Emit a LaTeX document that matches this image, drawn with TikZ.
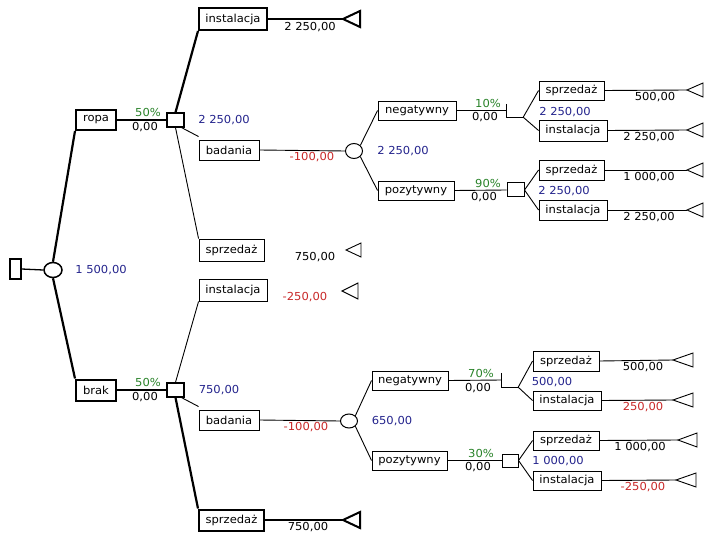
\documentclass[tikz,border=0pt]{standalone}
\usepackage{fontspec}
\setmainfont{DejaVu Sans}[FakeStretch=1.05]
\usetikzlibrary{shapes.geometric}
\definecolor{blu}{RGB}{35,35,140}
\definecolor{grn}{RGB}{40,130,40}
\definecolor{rd}{RGB}{200,40,40}
\newcommand\ft{\fontsize{11}{13}\selectfont}
\tikzset{
  box/.style={draw, rectangle, line width=0.9pt, inner sep=0pt, font=\ft},
  bbox/.style={box, line width=2pt},
  dec/.style={draw, rectangle, line width=1.3pt, inner sep=0pt},
  hdec/.style={rectangle, inner sep=0pt},
  chance/.style={draw, ellipse, line width=1pt, inner sep=0pt},
  ln/.style={line width=0.9pt},
  bln/.style={line width=2.2pt},
  val/.style={font=\ft, inner sep=0pt},
  tri/.style={line width=0.9pt},
  btri/.style={line width=2pt},
}
\begin{document}
\begin{tikzpicture}[x=1pt,y=-1pt]
\useasboundingbox (0,0) rectangle (720,540);
% root
\node[dec, line width=2pt, minimum width=11pt, minimum height=20pt] (root) at (15,269) {};
\node[chance, line width=1.5pt, minimum width=18pt, minimum height=15pt] (c0) at (53,270) {};
\draw[ln, line width=1.3pt] (root.east) -- (c0.west);
\node[val, text=blu] (v0) at (101,270) {1 500,00};
% ropa / brak
\node[bbox, minimum width=40pt, minimum height=20pt] (ropa) at (96,120) {ropa};
\node[bbox, minimum width=40pt, minimum height=21pt] (brak) at (96,390) {brak};
\draw[bln] (c0.north) -- (ropa.south west);
\draw[bln] (c0.south) -- (brak.north west);
\node[dec, minimum width=17pt, minimum height=14pt] (d1) at (175.5,120) {};
\node[dec, minimum width=17pt, minimum height=14pt] (d2) at (175.5,390) {};
\draw[bln] (ropa.east) -- (d1.west);
\draw[bln] (brak.east) -- (d2.west);
\node[val, text=grn] (p1) at (148,112) {50\%};
\node[val] (q1) at (145,127) {0,00};
\node[val, text=grn] (p2) at (148,382) {50\%};
\node[val] (q2) at (145,397) {0,00};
\node[val, text=blu] (v1) at (224,120) {2 250,00};
\node[val, text=blu] (v2) at (219,390) {750,00};
% upper first level
\node[bbox, minimum width=68pt, minimum height=22pt] (inst1) at (233,19) {instalacja};
\node[box, minimum width=60pt, minimum height=20pt] (bad1) at (229,150) {badania};
\node[box, minimum width=65pt, minimum height=22pt] (spr1) at (231.5,250) {sprzedaż};
\draw[bln] (d1.north) -- (inst1.south west);
\draw[ln] ([xshift=-3pt]d1.south east) -- ([yshift=3pt]bad1.north west);
\draw[ln] (d1.south) -- (spr1.north west);
\coordinate (T1) at (343,19);
\draw[bln] (inst1.east) -- (T1);
\draw[btri] (T1) -- ++(17,-8) -- ++(0,16) -- cycle;
\node[val] (w1) at (310,27) {2 250,00};
\coordinate (T2) at (346,250);
\draw[tri] (T2) -- ++(15,-7) -- ++(0,14) -- cycle;
\node[val] (w2) at (315,257) {750,00};
\node[val, text=rd] (w3) at (312,157) {-100,00};
% lower first level
\node[box, minimum width=68pt, minimum height=22pt] (inst2) at (233,290) {instalacja};
\node[box, minimum width=60pt, minimum height=20pt] (bad2) at (229,420) {badania};
\node[bbox, minimum width=65pt, minimum height=21pt] (spr2) at (231.5,520) {sprzedaż};
\draw[ln] (d2.north) -- (inst2.south west);
\draw[ln] ([xshift=-3pt]d2.south east) -- ([yshift=3pt]bad2.north west);
\draw[bln] (d2.south) -- (spr2.north west);
\coordinate (T3) at (342,291);
\draw[tri] (T3) -- ++(16,-8) -- ++(0,16) -- cycle;
\node[val, text=rd] (w4) at (305,297) {-250,00};
\coordinate (T4) at (343,520);
\draw[bln] (spr2.east) -- (T4);
\draw[btri] (T4) -- ++(17,-8) -- ++(0,16) -- cycle;
\node[val] (w5) at (308,527) {750,00};
\node[val, text=rd] (w6) at (306,427) {-100,00};
% upper chance
\node[chance, minimum width=17pt, minimum height=15pt] (c1) at (354,151) {};
\draw[ln] (bad1.east) -- (c1.west);
\node[val, text=blu] (v3) at (403,151) {2 250,00};
\node[box, minimum width=78pt, minimum height=19pt] (neg1) at (417,110.5) {negatywny};
\node[box, minimum width=76pt, minimum height=19pt] (poz1) at (416,190.5) {pozytywny};
\draw[ln] (c1.north east) -- (neg1.west);
\draw[ln] (c1.south east) -- (poz1.west);
\node[hdec, minimum width=16pt, minimum height=13pt] (h1) at (515,110.5) {};
\draw[ln] (neg1.east) -- (h1.west);
\draw[ln] (h1.north west) -- (h1.south west) -- (h1.south east);
\node[dec, line width=1pt, minimum width=17pt, minimum height=14pt] (d3) at (515.5,190) {};
\draw[ln] (poz1.east) -- (d3.west);
\node[val, text=grn] (p3) at (488,103) {10\%};
\node[val] (q3) at (485,117) {0,00};
\node[val, text=grn] (p4) at (488,183) {90\%};
\node[val] (q4) at (484,197) {0,00};
\node[val, text=blu] (v4) at (565,112) {2 250,00};
\node[val, text=blu] (v5) at (564,191) {2 250,00};
\node[box, minimum width=65pt, minimum height=19pt] (s11) at (571.5,90.5) {sprzedaż};
\node[box, minimum width=68pt, minimum height=21pt] (i11) at (573,130.5) {instalacja};
\node[box, minimum width=65pt, minimum height=20pt] (s12) at (571.5,170) {sprzedaż};
\node[box, minimum width=68pt, minimum height=20pt] (i12) at (573,210) {instalacja};
\draw[ln] (h1.south east) -- (s11.west);
\draw[ln] (h1.south east) -- (i11.west);
\draw[ln] (d3.east) -- (s12.west);
\draw[ln] (d3.east) -- (i12.west);
\coordinate (R1) at (687,90);
\coordinate (R2) at (687,130);
\coordinate (R3) at (687,170);
\coordinate (R4) at (687,210);
\draw[ln] (s11.east) -- (R1);
\draw[ln] (i11.east) -- (R2);
\draw[ln] (s12.east) -- (R3);
\draw[ln] (i12.east) -- (R4);
\draw[tri] (R1) -- ++(16,-7) -- ++(0,14) -- cycle;
\draw[tri] (R2) -- ++(16,-7) -- ++(0,14) -- cycle;
\draw[tri] (R3) -- ++(16,-7) -- ++(0,14) -- cycle;
\draw[tri] (R4) -- ++(16,-7) -- ++(0,14) -- cycle;
\node[val] (x1) at (655,97) {500,00};
\node[val] (x2) at (649,137) {2 250,00};
\node[val] (x3) at (649,177) {1 000,00};
\node[val] (x4) at (649,217) {2 250,00};
% lower chance
\node[chance, minimum width=17pt, minimum height=14pt] (c2) at (349,421) {};
\draw[ln] (bad2.east) -- (c2.west);
\node[val, text=blu] (v6) at (392,421) {650,00};
\node[box, minimum width=76pt, minimum height=19pt] (neg2) at (410,380.5) {negatywny};
\node[box, minimum width=75pt, minimum height=19pt] (poz2) at (409.5,460.5) {pozytywny};
\draw[ln] (c2.north east) -- (neg2.west);
\draw[ln] (c2.south east) -- (poz2.west);
\node[hdec, minimum width=16pt, minimum height=14pt] (h2) at (510,380) {};
\draw[ln] (neg2.east) -- (h2.west);
\draw[ln] (h2.north west) -- (h2.south west) -- (h2.south east);
\node[dec, line width=1pt, minimum width=16pt, minimum height=13pt] (d4) at (510,460.5) {};
\draw[ln] (poz2.east) -- (d4.west);
\node[val, text=grn] (p5) at (481,373) {70\%};
\node[val] (q5) at (478,388) {0,00};
\node[val, text=grn] (p6) at (481,453) {30\%};
\node[val] (q6) at (478,467) {0,00};
\node[val, text=blu] (v7) at (552,382) {500,00};
\node[val, text=blu] (v8) at (558,461) {1 000,00};
\node[box, minimum width=66pt, minimum height=20pt] (s21) at (566,361) {sprzedaż};
\node[box, minimum width=68pt, minimum height=19pt] (i21) at (567,400.5) {instalacja};
\node[box, minimum width=66pt, minimum height=19pt] (s22) at (566,440.5) {sprzedaż};
\node[box, minimum width=68pt, minimum height=19pt] (i22) at (567,480.5) {instalacja};
\draw[ln] (h2.south east) -- (s21.west);
\draw[ln] (h2.south east) -- (i21.west);
\draw[ln] (d4.east) -- (s22.west);
\draw[ln] (d4.east) -- (i22.west);
\coordinate (L1) at (673,360);
\coordinate (L2) at (673,400);
\coordinate (L3) at (678,440);
\coordinate (L4) at (676,480);
\draw[ln] (s21.east) -- (L1);
\draw[ln] (i21.east) -- (L2);
\draw[ln] (s22.east) -- (L3);
\draw[ln] (i22.east) -- (L4);
\draw[tri] (L1) -- ++(20,-7) -- ++(0,14) -- cycle;
\draw[tri] (L2) -- ++(20,-7) -- ++(0,14) -- cycle;
\draw[tri] (L3) -- ++(19,-7) -- ++(0,14) -- cycle;
\draw[tri] (L4) -- ++(20,-7) -- ++(0,14) -- cycle;
\node[val] (y1) at (643,367) {500,00};
\node[val, text=rd] (y2) at (643,407) {250,00};
\node[val] (y3) at (640,447) {1 000,00};
\node[val, text=rd] (y4) at (643,487) {-250,00};
\end{tikzpicture}
\end{document}
